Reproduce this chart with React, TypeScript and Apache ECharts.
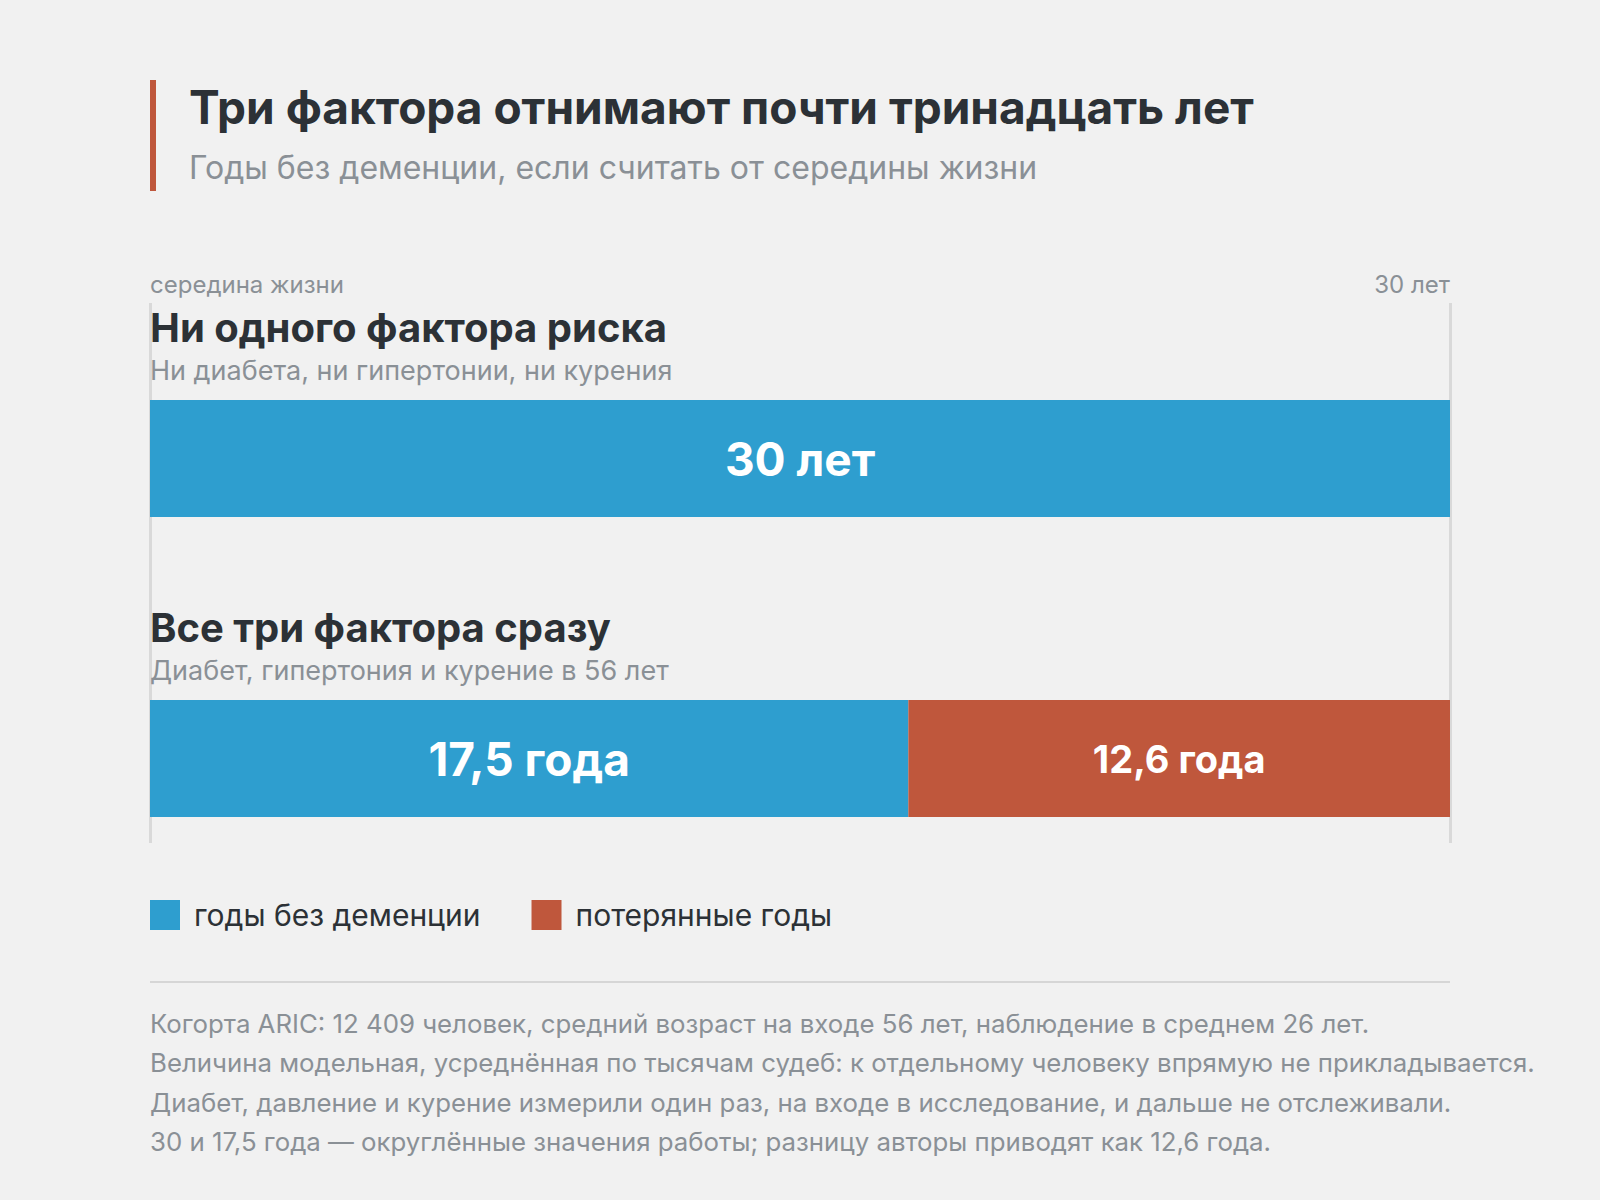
import React, { useEffect, useRef } from "react";
import * as echarts from "echarts";

// данные
const groups = ["Ни одного фактора риска", "Все три фактора сразу"];
const groupNotes = [
  "Ни диабета, ни гипертонии, ни курения",
  "Диабет, гипертония и курение в 56 лет",
];
const yearsFree = [30, 17.5];
const yearsLost = [null, 12.6];
const seriesNames = ["годы без деменции", "потерянные годы"];
const axisEnds = ["середина жизни", "30 лет"];
const footnotes = [
  "Когорта ARIC: 12 409 человек, средний возраст на входе 56 лет, наблюдение в среднем 26 лет.",
  "Величина модельная, усреднённая по тысячам судеб: к отдельному человеку впрямую не прикладывается.",
  "Диабет, давление и курение измерили один раз, на входе в исследование, и дальше не отслеживали.",
  "30 и 17,5 года — округлённые значения работы; разницу авторы приводят как 12,6 года.",
];

const BLUE = "#2e9ecf";
const RED = "#bf573c";
const DARK = "#2c3136";
const GRAY = "#8a9096";
const BG = "#f1f1f1";

const yearsLabel = (v) => {
  const s = String(v).replace(".", ",");
  return Number.isInteger(v) ? `${s} лет` : `${s} года`;
};

const App = () => {
  const chartRef = useRef(null);

  useEffect(() => {
    document.body.style.margin = "0";
    document.body.style.background = BG;
    const chart = echarts.init(chartRef.current, null, { renderer: "svg" });

    const option = {
      animation: false,
      backgroundColor: BG,
      textStyle: { fontFamily: "Inter" },
      grid: [
        { left: 150, right: 150, top: 308.5, height: 600 },
        { left: 150, right: 150, top: 303, height: 540 },
      ],
      xAxis: [
        { type: "value", gridIndex: 0, min: 0, max: 30, show: false },
        {
          type: "value",
          gridIndex: 1,
          position: "top",
          min: 0,
          max: 30,
          interval: 30,
          axisLine: { show: false },
          axisTick: { show: false },
          splitLine: { show: true, lineStyle: { color: "#d9d9d9", width: 3 } },
          axisLabel: {
            margin: 7,
            fontSize: 24,
            color: GRAY,
            alignMinLabel: "left",
            alignMaxLabel: "right",
            formatter: (v) => (v === 0 ? axisEnds[0] : axisEnds[1]),
          },
        },
      ],
      yAxis: [
        {
          type: "category",
          gridIndex: 0,
          inverse: true,
          data: groups,
          axisLine: { show: false },
          axisTick: { show: false },
          axisLabel: {
            inside: true,
            margin: 0,
            interval: 0,
            verticalAlign: "bottom",
            padding: [0, 0, 69, 0],
            formatter: (v, i) => `{h|${v}}\n{s|${groupNotes[i]}}`,
            rich: {
              h: { fontSize: 40, fontWeight: "bold", color: DARK, lineHeight: 46 },
              s: { fontSize: 27, color: GRAY, lineHeight: 39 },
            },
          },
        },
        { type: "value", gridIndex: 1, show: false },
      ],
      legend: {
        left: 150,
        top: 900,
        padding: 0,
        icon: "rect",
        itemWidth: 30,
        itemHeight: 30,
        itemGap: 51,
        data: seriesNames,
        textStyle: { fontSize: 30, color: DARK, padding: [0, 0, 0, 9] },
      },
      series: [
        {
          name: seriesNames[0],
          type: "bar",
          stack: "total",
          barWidth: 117,
          data: yearsFree,
          itemStyle: { color: BLUE },
          label: {
            show: true,
            position: "inside",
            color: "#fff",
            fontSize: 46,
            fontWeight: "bold",
            formatter: (p) => yearsLabel(p.value),
          },
        },
        {
          name: seriesNames[1],
          type: "bar",
          stack: "total",
          barWidth: 117,
          data: yearsLost,
          itemStyle: { color: RED },
          label: {
            show: true,
            position: "inside",
            color: "#fff",
            fontSize: 38,
            fontWeight: "bold",
            formatter: (p) => yearsLabel(p.value),
          },
        },
      ],
      graphic: [
        { type: "rect", shape: { x: 150, y: 80, width: 6, height: 111 }, style: { fill: RED } },
        {
          type: "text",
          x: 189,
          y: 107,
          style: {
            text: "Три фактора отнимают почти тринадцать лет",
            fontSize: 46,
            fontWeight: "bold",
            fontFamily: "Inter",
            fill: DARK,
            verticalAlign: "middle",
          },
        },
        {
          type: "text",
          x: 189,
          y: 167,
          style: {
            text: "Годы без деменции, если считать от середины жизни",
            fontSize: 32,
            fontFamily: "Inter",
            fill: GRAY,
            verticalAlign: "middle",
          },
        },
        {
          type: "line",
          shape: { x1: 150, y1: 982, x2: 1450, y2: 982 },
          style: { stroke: "#d6d6d6", lineWidth: 2 },
        },
        ...footnotes.map((t, i) => ({
          type: "text",
          x: 150,
          y: 1023 + i * 39.5,
          style: {
            text: t,
            fontSize: 25.8,
            fontFamily: "Inter",
            fill: GRAY,
            verticalAlign: "middle",
          },
        })),
      ],
    };

    chart.setOption(option);
    return () => {
      chart.dispose();
    };
  }, []);

  return <div ref={chartRef} style={{ width: "1600px", height: "1200px" }}></div>;
};

export default App;
